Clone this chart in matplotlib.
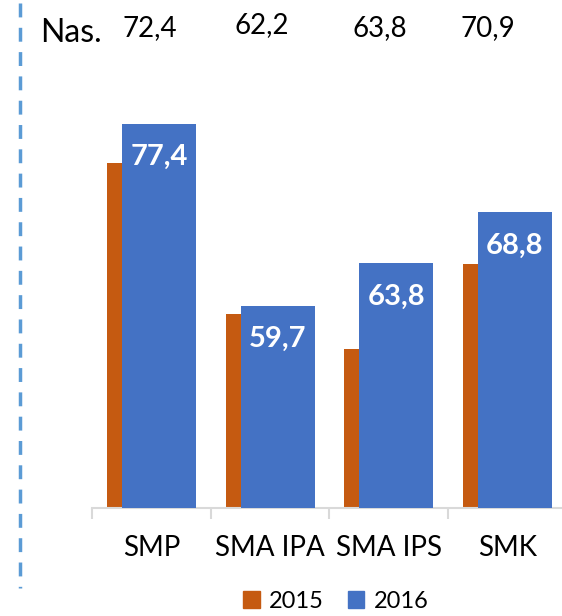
import matplotlib
matplotlib.use('Agg')
import matplotlib.pyplot as plt
from matplotlib.lines import Line2D
import numpy as np

# data
categories = ['SMP', 'SMA IPA', 'SMA IPS', 'SMK']
val2015 = [73.6, 58.9, 55.5, 63.7]
val2016 = [77.4, 59.7, 63.8, 68.8]
labels2016 = ['77,4', '59,7', '63,8', '68,8']
national = ['72,4', '62,2', '63,8', '70,9']

orange = '#C55A11'
blue = '#4472C4'

plt.rcParams['font.family'] = ['Lato', 'DejaVu Sans']

W, H = 562, 616
fig = plt.figure(figsize=(W/100, H/100), dpi=100)

# axes placed in pixel terms: x 92..566.7, y 97..508 (from top)
ax = fig.add_axes([92/W, (H-508)/H, 474.8/W, 411/H])
x = np.arange(len(categories))
bw = 0.623
off = 0.063
ax.bar(x - off, val2015, width=bw, color=orange, zorder=2, label='2015')
ax.bar(x + off, val2016, width=bw, color=blue, zorder=3, label='2016')
ax.set_xlim(-0.5, len(categories) - 0.5)
ax.set_ylim(40, 80)

for xi, v, lab in zip(x, val2016, labels2016):
    ax.annotate(lab, (xi + off, v), xytext=(0, -24), textcoords='offset points',
                ha='center', va='center', color='white', fontsize=21,
                fontweight='bold', zorder=4)

for s in ['top', 'right', 'left']:
    ax.spines[s].set_visible(False)
ax.spines['bottom'].set_color('#D9D9D9')
ax.spines['bottom'].set_linewidth(1.5)
ax.set_yticks([])
ax.set_xticks(np.arange(-0.5, len(categories), 1.0))
ax.set_xticklabels([])
ax.tick_params(axis='x', length=8, width=1.5, color='#D9D9D9')
for xi, c in zip(x, categories):
    ax.text(xi, -0.097, c, transform=ax.get_xaxis_transform(), ha='center',
            va='center', fontsize=20, color='black')

# top row: national values
fig.text(40/W, 1 - 33/H, 'Nas.', fontsize=23, ha='left', va='center')
for px, py, t in zip([150, 262, 380, 488], [28, 25, 28, 28], national):
    fig.text(px/W, 1 - py/H, t, fontsize=20, ha='center', va='center')

# dashed vertical line at left
fig.add_artist(Line2D([20/W, 20/W], [1 - 3/H, 1 - 588/H], transform=fig.transFigure,
                      color='#5B9BD5', lw=2.5, dashes=(4, 3)))

fig.legend(handles=[plt.Rectangle((0, 0), 1, 1, color=orange),
                    plt.Rectangle((0, 0), 1, 1, color=blue)],
           labels=['2015', '2016'], loc='center', bbox_to_anchor=(336/W, 1 - 601/H),
           ncol=2, frameon=False, fontsize=17, handlelength=0.7, handleheight=0.7,
           handletextpad=0.4, columnspacing=1.0)

fig.savefig('out.png', dpi=100)
